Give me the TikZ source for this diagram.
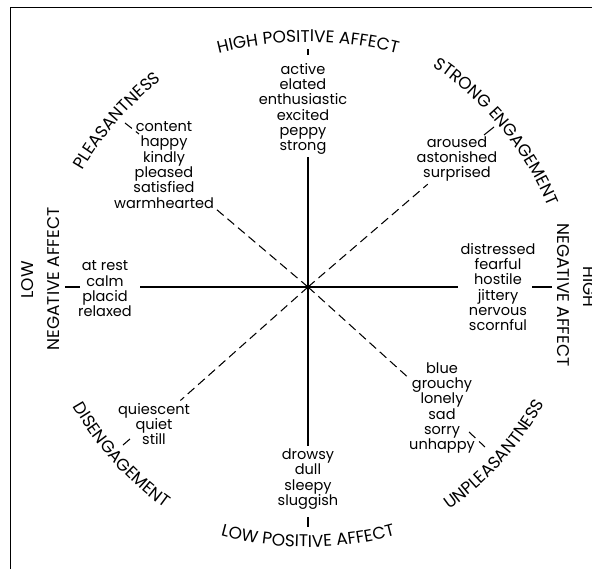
\documentclass[tikz,border=0pt]{standalone}
\usepackage{fontspec}
\setmainfont{Poppins}
\usetikzlibrary{decorations.text}
\newcommand{\capfont}{\fontsize{14.5}{17}\selectfont}

\begin{document}
\begin{tikzpicture}[x=0.03cm,y=0.03cm,
  words/.style={align=center, font=\fontsize{12.4}{13.1}\selectfont, inner sep=2pt},
  sidelabel/.style={font=\capfont, inner sep=0pt},
  axis/.style={line width=0.9pt},
  axisthick/.style={line width=1.6pt},
  diag/.style={line width=0.9pt, dash pattern=on 7.5pt off 4.3pt}]
\useasboundingbox (-308,-285) rectangle (284,287);
\draw[line width=0.8pt] (-298,-282) -- (-298,280) -- (284,280);
\coordinate (c) at (0,0);
\node[words] (hpa) at (-5,178) {active\\elated\\enthusiastic\\excited\\peppy\\strong};
\node[words] (pls) at (-144,122) {content\\happy\\kindly\\pleased\\satisfied\\warmhearted};
\node[words] (stre) at (149,128) {aroused\\astonished\\surprised};
\node[words] (hna) at (190,0) {distressed\\fearful\\hostile\\jittery\\nervous\\scornful};
\node[words] (lna) at (-203,-2) {at rest\\calm\\placid\\relaxed};
\node[words] (dis) at (-154,-137) {quiescent\\quiet\\still};
\node[words] (lpa) at (0,-192) {drowsy\\dull\\sleepy\\sluggish};
\node[words] (unpl) at (134,-121) {blue\\grouchy\\lonely\\sad\\sorry\\unhappy};
\draw[axis] (c) -- (c |- hpa.south);
\draw[axis] (c) -- (c |- lpa.north);
\draw[axisthick, shorten >=5pt] (c) -- (lna.east |- c);
\draw[axisthick] (c) -- (hna.west |- c);
\draw[diag] (c) -- (pls);
\draw[diag] (c) -- (stre);
\draw[diag] (c) -- (unpl);
\draw[diag] (c) -- (dis);
\draw[axis] (0,232) -- (0,238);
\draw[axis] (0,-230) -- (0,-240);
\draw[axisthick] (-243,0) -- (-228,0);
\draw[axisthick] (224,0) -- (244,0);
\draw[diag] (-183,164) -- (-169,153);
\draw[axis] (176,152) -- (186,160);
\draw[diag] (161,-145) -- (177,-160);
\draw[axis] (-185,-158) -- (-178,-152);
\path[shift={(90:245-360)}, decorate, decoration={text along path, text align=center, text={|\capfont|HIGH POSITIVE AFFECT}}] (120:360) arc[start angle=120, end angle=60, radius=360];
\path[shift={(39.5:250-320)}, decorate, decoration={text along path, text align=center, text={|\capfont|STRONG ENGAGEMENT}}] (77.5:320) arc[start angle=77.5, end angle=1.5, radius=320];
\path[shift={(139:252-320)}, decorate, decoration={text along path, text align=center, text={|\capfont|PLEASANTNESS}}] (171:320) arc[start angle=171, end angle=107, radius=320];
\path[shift={(-90:260-330)}, decorate, decoration={text along path, text align=center, text={|\capfont|LOW POSITIVE AFFECT}}] (-122:330) arc[start angle=-122, end angle=-58, radius=330];
\path[shift={(222:262-320)}, decorate, decoration={text along path, text align=center, text={|\capfont|DISENGAGEMENT}}] (188:320) arc[start angle=188, end angle=256, radius=320];
\path[shift={(-42:262-320)}, decorate, decoration={text along path, text align=center, text={|\capfont|UNPLEASANTNESS}}] (-76:320) arc[start angle=-76, end angle=-8, radius=320];
\node[sidelabel, rotate=90] (lnalow) at (-280,7) {LOW};
\node[sidelabel, rotate=90] (lnaneg) at (-254,8) {NEGATIVE AFFECT};
\node[sidelabel, rotate=-90] (hnahigh) at (281,0) {HIGH};
\node[sidelabel, rotate=-90] (hnaneg) at (255,-8) {NEGATIVE AFFECT};
\end{tikzpicture}
\end{document}
